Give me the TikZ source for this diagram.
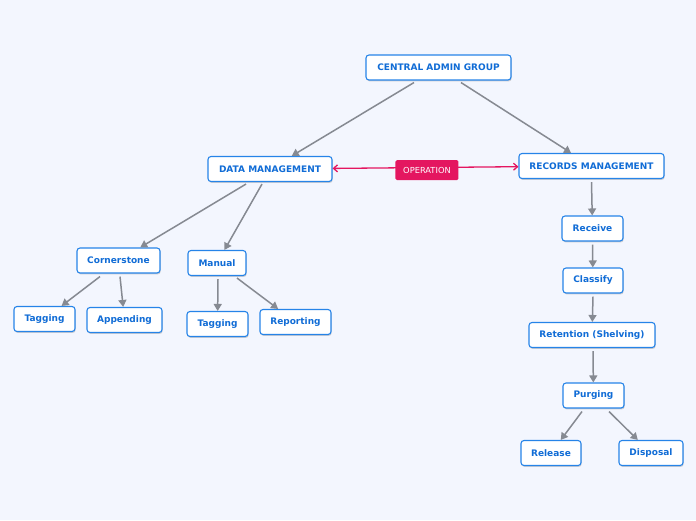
\documentclass[tikz,border=0pt]{standalone}
\usepackage{fontspec}
\newfontfamily\mapfont{DejaVu Sans}
\usetikzlibrary{arrows.meta,shadows}
\definecolor{mapbg}{RGB}{243,246,254}
\definecolor{mapblue}{RGB}{38,132,232}
\definecolor{maptext}{RGB}{16,108,214}
\definecolor{mapgray}{RGB}{134,138,146}
\definecolor{mappink}{RGB}{228,22,96}
\tikzset{
  topic/.style={draw=mapblue, line width=1.1pt, fill=white, rounded corners=3pt,
                minimum height=25pt, inner xsep=4pt, text=maptext,
                font=\mapfont\bfseries\fontsize{9}{10}\selectfont,
                drop shadow={shadow xshift=0.7pt, shadow yshift=-1.4pt, opacity=0.35}},
  link/.style={-{Triangle[length=7pt,width=8pt]}, mapgray, line width=1.5pt},
  oplink/.style={{Straight Barb[length=4pt,width=7pt]}-{Straight Barb[length=4pt,width=7pt]},
                 mappink, line width=1.3pt},
  opbox/.style={fill=mappink, rounded corners=1.5pt, text=white, minimum width=63pt,
                minimum height=20pt, inner sep=1pt, font=\mapfont\fontsize{8.3}{9}\selectfont},
}

\begin{document}
\begin{tikzpicture}[x=1pt, y=-1pt]
  \fill[mapbg] (0,0) rectangle (696,520);
  \useasboundingbox (0,0) rectangle (696,520);

  % main branches
  \node[topic, minimum width=145pt] (cag) at (438.5,67.5) {CENTRAL ADMIN GROUP};
  \node[topic, minimum width=124pt] (dm) at (270,169) {DATA MANAGEMENT};
  \node[topic, minimum width=145pt] (rm) at (591.5,166) {RECORDS MANAGEMENT};

  % data side
  \node[topic, minimum width=83pt] (corner) at (118.5,260.5) {Cornerstone};
  \node[topic, minimum width=58pt] (manual) at (217,263) {Manual};
  \node[topic, minimum width=61pt] (tagA) at (44.5,319) {Tagging};
  \node[topic, minimum width=75pt] (append) at (124.5,320) {Appending};
  \node[topic, minimum width=61pt] (tagB) at (217.5,324) {Tagging};
  \node[topic, minimum width=71pt] (report) at (295.5,322) {Reporting};

  % records side
  \node[topic, minimum width=61pt] (receive) at (592.5,228.5) {Receive};
  \node[topic, minimum width=60pt] (classify) at (593,280.5) {Classify};
  \node[topic, minimum width=126pt] (retain) at (592,335) {Retention (Shelving)};
  \node[topic, minimum width=61pt] (purge) at (593.5,395.5) {Purging};
  \node[topic, minimum width=60pt] (release) at (551,453) {Release};
  \node[topic, minimum width=64pt] (dispose) at (651,453) {Disposal};

  \draw[link] ([xshift=-24.5pt,yshift=-2pt]cag.south) -- (dm);
  \draw[link] ([xshift=22.5pt,yshift=-2pt]cag.south) -- (rm);
  \draw[link] ([xshift=-24pt,yshift=-2pt]dm.south) -- (corner);
  \draw[link] ([xshift=-8pt,yshift=-2pt]dm.south) -- (manual);
  \draw[link] ([xshift=-18.5pt,yshift=-3pt]corner.south) -- (tagA);
  \draw[link] ([xshift=1.5pt,yshift=-3pt]corner.south) -- (append);
  \draw[link] ([xshift=1pt,yshift=-3pt]manual.south) -- (tagB);
  \draw[link] ([xshift=20pt,yshift=-2pt]manual.south) -- (report);

  \draw[link] ([yshift=-3pt]rm.south) -- (receive);
  \draw[link] ([yshift=-3pt]receive.south) -- (classify);
  \draw[link] ([yshift=-3pt]classify.south) -- (retain);
  \draw[link] ([xshift=1pt,yshift=-3pt]retain.south) -- (purge);
  \draw[link] ([xshift=-11.5pt,yshift=-3pt]purge.south) -- (release);
  \draw[link] ([xshift=15.5pt,yshift=-3pt]purge.south) -- (dispose);

  % relationship
  \draw[oplink] (dm) -- node[opbox, pos=0.508, yshift=-2.5pt] (op) {OPERATION} (rm);
\end{tikzpicture}
\end{document}
